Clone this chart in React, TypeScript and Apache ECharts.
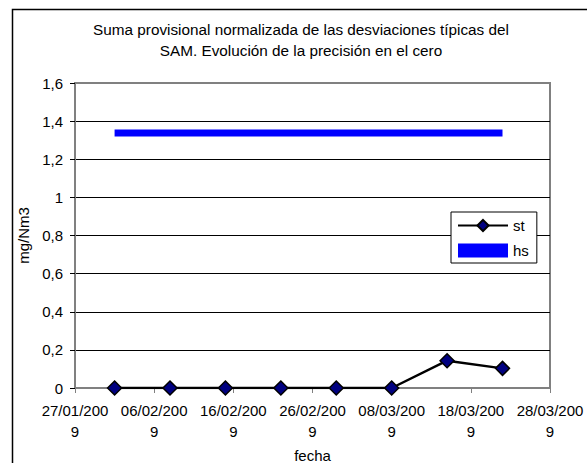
import React, { useEffect, useRef } from "react";
import * as echarts from "echarts";

const titleText = "Suma provisional normalizada de las desviaciones típicas del\nSAM. Evolución de la precisión en el cero";
const dates = ["01/02/2009", "08/02/2009", "15/02/2009", "22/02/2009", "01/03/2009", "08/03/2009", "15/03/2009", "22/03/2009"];
const stValues = [0, 0, 0, 0, 0, 0, 0.143, 0.103];
const hsValues = [1.338, 1.338, 1.338, 1.338, 1.338, 1.338, 1.338, 1.338];
const xMinDate = "27/01/2009";
const xMaxDate = "28/03/2009";
const xStepDays = 10;
const yMin = 0;
const yMax = 1.6;
const yStep = 0.2;

const DAY = 86400000;
const toDay = (s: string) => {
  const [d, m, y] = s.split("/").map(Number);
  return Date.UTC(y, m - 1, d) / DAY;
};
const fmtDay = (v: number) => {
  const dt = new Date(Math.round(v) * DAY);
  const dd = String(dt.getUTCDate()).padStart(2, "0");
  const mm = String(dt.getUTCMonth() + 1).padStart(2, "0");
  const yy = String(dt.getUTCFullYear());
  return `${dd}/${mm}/${yy.slice(0, 3)}\n${yy.slice(3)}`;
};

const FONT = "'Liberation Sans', Arial, sans-serif";

export default function App() {
  const ref = useRef<HTMLDivElement>(null);
  useEffect(() => {
    if (!ref.current) return;
    const chart = echarts.init(ref.current, undefined, { renderer: "svg" });
    const xs = dates.map(toDay);
    const nLines = Math.round((yMax - yMin) / yStep) + 1;
    const splitColors: string[] = [];
    for (let i = 0; i < nLines; i++) splitColors.push(i === nLines - 1 ? "#808080" : "#000000");
    chart.setOption({
      animation: false,
      backgroundColor: "#ffffff",
      textStyle: { fontFamily: FONT },
      title: {
        text: titleText,
        left: 301,
        top: 19,
        padding: 0,
        textAlign: "center",
        textStyle: { fontFamily: FONT, fontSize: 15.3, fontWeight: "normal", color: "#000", lineHeight: 21 },
      },
      graphic: [
        {
          type: "rect",
          z: -1,
          shape: { x: 12.5, y: 9.5, width: 700, height: 600 },
          style: { fill: "none", stroke: "#000", lineWidth: 1.5 },
          silent: true,
        },
      ],
      legend: {
        orient: "vertical",
        left: 451,
        top: 212,
        padding: [6, 8, 5, 6],
        itemWidth: 50,
        itemHeight: 14,
        itemGap: 10,
        itemTextGap: 3,
        borderColor: "#000",
        borderWidth: 1,
        backgroundColor: "#fff",
        textStyle: { fontFamily: FONT, fontSize: 15, color: "#000" },
        data: [
          { name: "st" },
          { name: "hs", icon: "rect", itemStyle: { color: "#0000ff" } },
        ],
      },
      grid: {
        left: 75,
        right: 37,
        top: 83,
        bottom: 75,
        show: true,
        borderColor: "#808080",
        borderWidth: 2,
        backgroundColor: "#fff",
        containLabel: false,
        outerBoundsMode: "none",
      },
      xAxis: {
        type: "value",
        min: toDay(xMinDate),
        max: toDay(xMaxDate),
        interval: xStepDays,
        name: "fecha",
        nameLocation: "middle",
        nameGap: 60,
        nameTextStyle: { fontFamily: FONT, fontSize: 15, color: "#000", lineHeight: 15 },
        axisLine: { show: true, lineStyle: { color: "#808080", width: 2 } },
        axisTick: { show: true, inside: false, length: 5, lineStyle: { color: "#808080", width: 1 } },
        axisLabel: {
          formatter: (v: number) => fmtDay(v),
          fontFamily: FONT,
          fontSize: 15,
          color: "#000",
          lineHeight: 21,
          margin: 12,
          showMinLabel: true,
          showMaxLabel: true,
        },
        splitLine: { show: false },
      },
      yAxis: {
        type: "value",
        min: yMin,
        max: yMax,
        interval: yStep,
        name: "mg/Nm3",
        nameLocation: "middle",
        nameGap: 40,
        nameTextStyle: { fontFamily: FONT, fontSize: 15, color: "#000" },
        axisLine: { show: true, lineStyle: { color: "#808080", width: 2 } },
        axisTick: { show: true, inside: false, length: 5, lineStyle: { color: "#000", width: 1 } },
        axisLabel: {
          formatter: (v: number) => String(+v.toFixed(1)).replace(".", ","),
          fontFamily: FONT,
          fontSize: 15,
          color: "#000",
          margin: 12,
        },
        splitLine: { show: true, lineStyle: { color: splitColors, width: 1 } },
      },
      series: [
        {
          name: "st",
          type: "line",
          data: xs.map((x, i) => [x, stValues[i]]),
          symbol: "diamond",
          symbolSize: 14,
          showSymbol: true,
          lineStyle: { color: "#000", width: 2.5 },
          itemStyle: { color: "#000080", borderColor: "#000", borderWidth: 1.5 },
          z: 3,
        },
        {
          name: "hs",
          type: "line",
          data: xs.map((x, i) => [x, hsValues[i]]),
          symbol: "none",
          lineStyle: { color: "#0000ff", width: 7, cap: "butt" },
          itemStyle: { color: "#0000ff" },
          z: 2,
        },
      ],
    });
    return () => chart.dispose();
  }, []);
  return <div ref={ref} style={{ position: "fixed", left: 0, top: 0, width: 587, height: 463 }} />;
}
